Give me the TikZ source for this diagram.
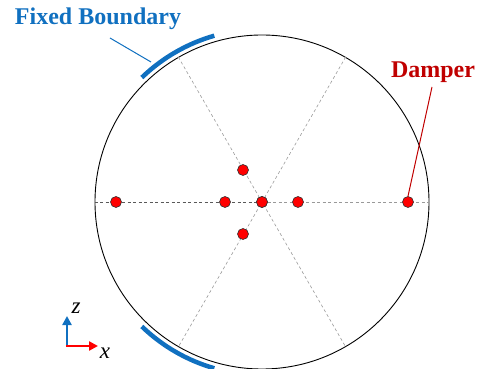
\documentclass[tikz,border=0pt]{standalone}
\usepackage{fontspec}
\setmainfont{Liberation Serif}
\usetikzlibrary{arrows.meta}
\definecolor{fbblue}{HTML}{1070C0}
\definecolor{dred}{HTML}{C00000}
\tikzset{
  dot/.style={circle,fill=red,draw=black!80,line width=0.6pt,inner sep=0pt,minimum size=11pt},
  guide/.style={dashed,dash pattern=on 3pt off 2.5pt,draw=black!40,line width=0.6pt},
  guidedark/.style={dashed,dash pattern=on 3pt off 2.5pt,draw=black!65,line width=0.6pt},
  fixed/.style={draw=fbblue,line width=4.5pt},
  lbl/.style={font=\fontsize{24}{28}\selectfont\bfseries,inner sep=0pt},
  axlbl/.style={font=\fontsize{23}{26}\selectfont\itshape,inner sep=0pt},
  axarrow/.style={line width=2.4pt,-{Triangle[length=9pt,width=9pt]}}
}
\begin{document}
\begin{tikzpicture}[x=1pt,y=-1pt]
\useasboundingbox (0,0) rectangle (483,369);
% disk
\node[circle,draw=black,line width=0.9pt,minimum size=334pt,inner sep=0pt] (disk) at (262,202) {};
% guide lines
\node[dot] (c) at (262,202) {};
\draw[guidedark] (disk.180) -- (c.center);
\draw[guide] (c.center) -- (disk.0);
\draw[guide] (disk.120) -- (disk.-60);
\draw[guide] (disk.60) -- (disk.-120);
% dots
\node[dot] at (262,202) {};
\node[dot] (l1) at (225,202) {};
\node[dot] (r1) at (298,202) {};
\node[dot] (l2) at (116,202) {};
\node[dot] (r2) at (408,202) {};
\node[dot] (u1) at (243,170) {};
\node[dot] (d1) at (243,234) {};
% fixed boundaries
\draw[fixed] (262,202) ++(106:173) arc[start angle=106,end angle=134,radius=173];
\draw[fixed] (262,202) ++(-106:173) arc[start angle=-106,end angle=-134,radius=173];
% labels
\node[lbl,text=fbblue] (fb) at (98,19) {Fixed Boundary};
\coordinate (fbA) at (110,38);
\coordinate (fbB) at (151,62);
\draw[fbblue,line width=1pt] (fbA) -- (fbB);
\node[lbl,text=dred] (dp) at (433,72) {Damper};
\coordinate (dpA) at (432,87);
\draw[dred,line width=1pt] (dpA) -- (r2.north);
% axes
\coordinate (o) at (67,346);
\coordinate (zt) at (67,316);
\coordinate (xt) at (98,346);
\draw[fbblue,axarrow] ([yshift=1.2pt]o) -- (zt);
\draw[red,axarrow] ([xshift=-1.2pt]o) -- (xt);
\node[axlbl] (zl) at (76,308) {z};
\node[axlbl] (xl) at (105,353) {x};
\end{tikzpicture}
\end{document}
